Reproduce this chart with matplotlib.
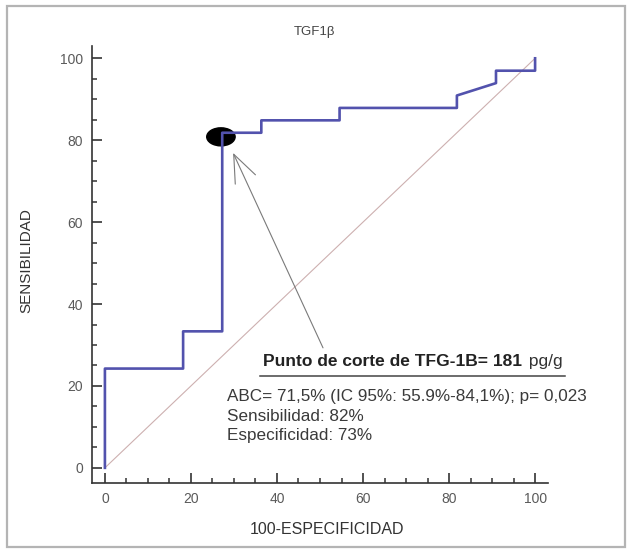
"""ROC curve for TGF1b cut-off point."""

import matplotlib

matplotlib.use("Agg")
import matplotlib.pyplot as plt
from matplotlib.patches import Ellipse, Rectangle
from matplotlib.ticker import MultipleLocator

plt.rcParams["font.family"] = ["Liberation Sans", "DejaVu Sans"]

# ROC curve: 100-especificidad (x) vs sensibilidad (y)
fpr = [0, 0, 18.18, 18.18, 27.27, 27.27, 36.36, 36.36, 54.55, 54.55,
       81.82, 81.82, 90.91, 90.91, 100, 100]
tpr = [0, 24.24, 24.24, 33.33, 33.33, 81.82, 81.82, 84.85, 84.85, 87.88,
       87.88, 90.91, 93.94, 96.97, 96.97, 100]
diag = [0, 100]

cut_fpr = 27.27
cut_tpr = 81.82

title = "TGF1β"
x_label = "100-ESPECIFICIDAD"
y_label = "SENSIBILIDAD"
cut_text_bold = "Punto de corte de TFG-1B= 181"
cut_text_unit = " pg/g"
stats_lines = [
    "ABC= 71,5% (IC 95%: 55.9%-84,1%); p= 0,023",
    "Sensibilidad: 82%",
    "Especificidad: 73%",
]

fig = plt.figure(figsize=(6.28, 5.5), dpi=100)
ax = fig.add_axes([92 / 628, 1 - 483 / 550, 456 / 628, 437 / 550])

# outer frame
fig.patches.append(
    Rectangle((7 / 628, 1 - 547 / 550), 618 / 628, 541 / 550,
              transform=fig.transFigure, fill=False, edgecolor="#b4b4b4", linewidth=1.6)
)

ax.plot(diag, diag, color="#cdb0b0", linewidth=0.8, zorder=1)
ax.add_patch(Ellipse((cut_fpr - 0.3, cut_tpr - 1.0), 6.6, 4.4, facecolor="black",
                     edgecolor="black", zorder=2))
ax.plot(fpr, tpr, color="#5252ad", linewidth=1.9, zorder=3, clip_on=False)

ax.annotate(
    "", xy=(29.8, 76.9), xytext=(50.7, 29.3),
    arrowprops=dict(arrowstyle="->,head_length=1.0,head_width=0.4", mutation_scale=20,
                    color="#7a7a7a", lw=0.8, shrinkA=0, shrinkB=0),
)

ax.text(36.7, 25.9, cut_text_bold, fontsize=12.5, fontweight="bold", color="#222222",
        ha="left", va="center")
ax.text(106.3, 25.9, cut_text_unit, fontsize=12.5, color="#333333", ha="right", va="center",
        clip_on=False)
ax.plot([36.0, 106.9], [22.5, 22.5], color="#444444", linewidth=1.1, clip_on=False)

for i, line in enumerate(stats_lines):
    ax.text(28.4, 17.3 - 4.7 * i, line, fontsize=12.3, color="#3a3a3a", ha="left", va="center")

ax.set_xlim(-3, 103)
ax.set_ylim(-3.7, 103)
ax.spines["top"].set_visible(False)
ax.spines["right"].set_visible(False)
for side in ("left", "bottom"):
    ax.spines[side].set_color("#333333")
    ax.spines[side].set_linewidth(1.2)

ax.xaxis.set_major_locator(MultipleLocator(20))
ax.xaxis.set_minor_locator(MultipleLocator(5))
ax.yaxis.set_major_locator(MultipleLocator(20))
ax.yaxis.set_minor_locator(MultipleLocator(5))
ax.tick_params(which="major", direction="in", length=7, width=1.2, color="#333333",
               labelsize=10, labelcolor="#5a5a5a", pad=6.5)
ax.tick_params(which="minor", direction="in", length=3.5, width=1.1, color="#333333")

ax.set_xlabel(x_label, fontsize=11.5, color="#333333")
ax.xaxis.set_label_coords(0.515, -0.089)
ax.set_ylabel(y_label, fontsize=11, color="#333333")
ax.yaxis.set_label_coords(-0.129, 0.51)
ax.text(0.487, 1.032, title, transform=ax.transAxes, fontsize=9.5, color="#444444",
        ha="center", va="center")

fig.savefig("out.png", dpi=100)
